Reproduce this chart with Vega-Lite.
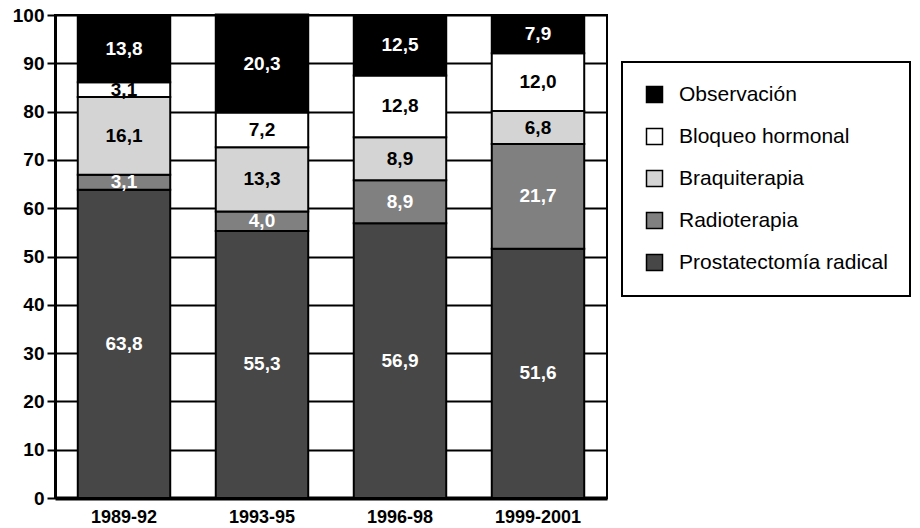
{
  "$schema": "https://vega.github.io/schema/vega-lite/v6.json",
  "width": 552,
  "height": 483,
  "autosize": "none",
  "padding": {"left": 55, "top": 15, "right": 313, "bottom": 30},
  "background": "white",
  "config": {
    "font": "Liberation Sans",
    "view": {"stroke": "black", "strokeWidth": 2}
  },
  "data": {
    "values": [
      {"periodo": "1989-92", "tratamiento": "Prostatectomía radical", "porcentaje": 63.8},
      {"periodo": "1989-92", "tratamiento": "Radioterapia", "porcentaje": 3.1},
      {"periodo": "1989-92", "tratamiento": "Braquiterapia", "porcentaje": 16.1},
      {"periodo": "1989-92", "tratamiento": "Bloqueo hormonal", "porcentaje": 3.1},
      {"periodo": "1989-92", "tratamiento": "Observación", "porcentaje": 13.8},
      {"periodo": "1993-95", "tratamiento": "Prostatectomía radical", "porcentaje": 55.3},
      {"periodo": "1993-95", "tratamiento": "Radioterapia", "porcentaje": 4.0},
      {"periodo": "1993-95", "tratamiento": "Braquiterapia", "porcentaje": 13.3},
      {"periodo": "1993-95", "tratamiento": "Bloqueo hormonal", "porcentaje": 7.2},
      {"periodo": "1993-95", "tratamiento": "Observación", "porcentaje": 20.3},
      {"periodo": "1996-98", "tratamiento": "Prostatectomía radical", "porcentaje": 56.9},
      {"periodo": "1996-98", "tratamiento": "Radioterapia", "porcentaje": 8.9},
      {"periodo": "1996-98", "tratamiento": "Braquiterapia", "porcentaje": 8.9},
      {"periodo": "1996-98", "tratamiento": "Bloqueo hormonal", "porcentaje": 12.8},
      {"periodo": "1996-98", "tratamiento": "Observación", "porcentaje": 12.5},
      {"periodo": "1999-2001", "tratamiento": "Prostatectomía radical", "porcentaje": 51.6},
      {"periodo": "1999-2001", "tratamiento": "Radioterapia", "porcentaje": 21.7},
      {"periodo": "1999-2001", "tratamiento": "Braquiterapia", "porcentaje": 6.8},
      {"periodo": "1999-2001", "tratamiento": "Bloqueo hormonal", "porcentaje": 12.0},
      {"periodo": "1999-2001", "tratamiento": "Observación", "porcentaje": 7.9}
    ]
  },
  "transform": [
    {"calculate": "indexof(['Prostatectomía radical','Radioterapia','Braquiterapia','Bloqueo hormonal','Observación'], datum.tratamiento)", "as": "orden"},
    {"calculate": "replace(format(datum.porcentaje, '.1f'), '.', ',')", "as": "etiqueta"}
  ],
  "encoding": {
    "x": {
      "field": "periodo",
      "type": "nominal",
      "sort": ["1989-92", "1993-95", "1996-98", "1999-2001"],
      "scale": {"paddingInner": 0.33, "paddingOuter": 0.165},
      "axis": {
        "title": null,
        "labelAngle": 0,
        "labelFontSize": 18,
        "labelFontWeight": "bold",
        "labelColor": "black",
        "labelPadding": 10,
        "ticks": false,
        "domainColor": "black",
        "domainWidth": 4,
        "grid": false
      }
    },
    "order": {"field": "orden", "type": "quantitative"}
  },
  "layer": [
    {
      "mark": {"type": "bar", "stroke": "black", "strokeWidth": 2},
      "encoding": {
        "y": {
          "field": "porcentaje",
          "type": "quantitative",
          "stack": "zero",
          "scale": {"domain": [0, 100], "nice": false},
          "axis": {
            "title": null,
            "values": [0, 10, 20, 30, 40, 50, 60, 70, 80, 90, 100],
            "labelFontSize": 19,
            "labelFontWeight": "bold",
            "labelColor": "black",
            "labelPadding": 3,
            "tickColor": "black",
            "tickSize": 8,
            "tickWidth": 2,
            "domainColor": "black",
            "domainWidth": 3,
            "grid": true,
            "gridColor": "black",
            "gridWidth": 2,
            "gridOpacity": 1
          }
        },
        "color": {
          "field": "tratamiento",
          "type": "nominal",
          "scale": {
            "domain": ["Observación", "Bloqueo hormonal", "Braquiterapia", "Radioterapia", "Prostatectomía radical"],
            "range": ["#000000", "#ffffff", "#d4d4d4", "#808080", "#474747"]
          },
          "legend": {
            "title": null,
            "orient": "none",
            "legendX": 567,
            "legendY": 47,
            "symbolType": "square",
            "symbolSize": 256,
            "symbolStrokeColor": "black",
            "symbolStrokeWidth": 1.5,
            "symbolOpacity": 1,
            "labelFontSize": 21,
            "labelColor": "black",
            "labelOffset": 14,
            "labelLimit": 400,
            "rowPadding": 19,
            "padding": 22,
            "strokeColor": "black",
            "fillColor": "white",
            "encode": {"legend": {"update": {"strokeWidth": {"value": 2}}}}
          }
        }
      }
    },
    {
      "mark": {"type": "text", "fontSize": 19, "fontWeight": "bold", "baseline": "middle", "align": "center"},
      "encoding": {
        "y": {"field": "porcentaje", "type": "quantitative", "stack": "zero", "bandPosition": 0.5},
        "text": {"field": "etiqueta", "type": "nominal"},
        "color": {
          "condition": {"test": "datum.tratamiento === 'Bloqueo hormonal' || datum.tratamiento === 'Braquiterapia'", "value": "black"},
          "value": "white"
        }
      }
    }
  ]
}
